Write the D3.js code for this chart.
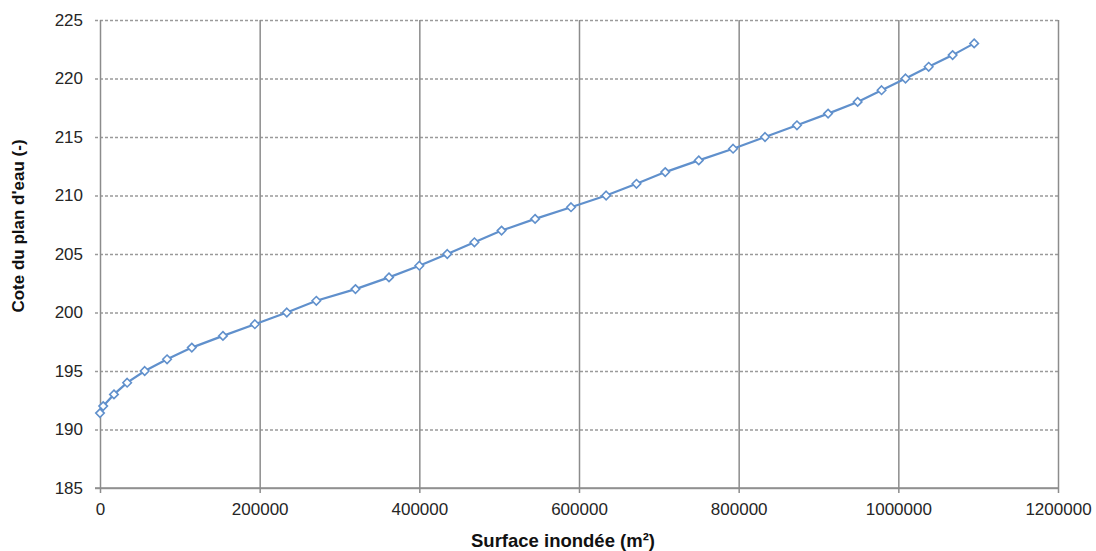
<!DOCTYPE html>
<html>
<head>
<meta charset="utf-8">
<script src="https://cdn.jsdelivr.net/npm/d3@7"></script>
<style>
  body { margin: 0; background: #fff; }
  svg { font-family: "Liberation Sans", Arial, sans-serif; }
  .tick text { fill: #262626; font-size: 17px; }
  .axis-label { font-weight: bold; font-size: 16.5px; fill: #111; }
</style>
</head>
<body>
<svg width="1096" height="551"></svg>
<script>
"use strict";

// surface inondée (m²) -> cote du plan d'eau
const surface = [
  0, 4000, 17500, 34000, 56000, 84000, 115000, 154000, 194000, 234000,
  271000, 320000, 362000, 400000, 435000, 469000, 503000, 545000, 590000,
  634000, 672000, 708000, 750000, 793000, 833000, 873000, 912000, 949000,
  979000, 1009000, 1038000, 1068000, 1095000
];
const cote = [
  191.4, 192, 193, 194, 195, 196, 197, 198, 199, 200,
  201, 202, 203, 204, 205, 206, 207, 208, 209,
  210, 211, 212, 213, 214, 215, 216, 217, 218,
  219, 220, 221, 222, 223
];
const xTicks = [0, 200000, 400000, 600000, 800000, 1000000, 1200000];
const yTicks = [185, 190, 195, 200, 205, 210, 215, 220, 225];

const xAxisLabel = "Surface inondée (m²)";
const yAxisLabel = "Cote du plan d'eau (-)";

const svg = d3.select("svg");
const width = +svg.attr("width");
const height = +svg.attr("height");

const render = data => {
  const margin = { top: 20, right: 38, bottom: 63, left: 100 };
  const innerWidth = width - margin.left - margin.right;
  const innerHeight = height - margin.top - margin.bottom;
  const lineColor = "#6090cc";

  const xScale = d3.scaleLinear().domain([0, 1200000]).range([0, innerWidth]);
  const yScale = d3.scaleLinear().domain([185, 225]).range([innerHeight, 0]);

  const g = svg
    .append("g")
    .attr("transform", `translate(${margin.left},${margin.top})`);

  // horizontal dashed grid + left ticks
  const yAxisG = g
    .append("g")
    .call(
      d3.axisLeft(yScale)
        .tickValues(yTicks)
        .tickSize(-innerWidth - 5)
        .tickPadding(12)
        .tickFormat(d3.format("d"))
    )
    .attr("transform", "translate(-5,0)");
  yAxisG.select(".domain").remove();
  yAxisG.selectAll(".tick text").attr("x", -12);
  yAxisG
    .selectAll(".tick line")
    .attr("x1", 0)
    .attr("x2", innerWidth + 5)
    .attr("stroke", "#9a9a9a")
    .attr("stroke-width", 1.5)
    .attr("stroke-dasharray", d => (d === 185 ? null : "3,2"));

  // vertical solid grid + bottom ticks
  const xAxisG = g
    .append("g")
    .call(
      d3.axisBottom(xScale)
        .tickValues(xTicks)
        .tickSize(5)
        .tickPadding(10)
        .tickFormat(d3.format("d"))
    )
    .attr("transform", `translate(0,${innerHeight})`);
  xAxisG.select(".domain").remove();
  xAxisG
    .selectAll(".tick line")
    .attr("y1", -innerHeight)
    .attr("y2", 5)
    .attr("stroke", "#8c8c8c")
    .attr("stroke-width", 1.5);

  // bottom axis line
  g.append("line")
    .attr("x1", -5)
    .attr("x2", innerWidth)
    .attr("y1", innerHeight)
    .attr("y2", innerHeight)
    .attr("stroke", "#8c8c8c")
    .attr("stroke-width", 1.5);

  const line = d3
    .line()
    .x(d => xScale(d.surface))
    .y(d => yScale(d.cote));

  g.append("path")
    .datum(data)
    .attr("d", line)
    .attr("fill", "none")
    .attr("stroke", lineColor)
    .attr("stroke-width", 2.2);

  const diamond = d3.symbol().type(d3.symbolDiamond2).size(46);
  g.selectAll(".marker")
    .data(data)
    .enter()
    .append("path")
    .attr("class", "marker")
    .attr("d", diamond)
    .attr("transform", d => `translate(${xScale(d.surface)},${yScale(d.cote)})`)
    .attr("fill", "#fff")
    .attr("stroke", lineColor)
    .attr("stroke-width", 1.6);

  svg
    .append("text")
    .attr("class", "axis-label")
    .attr("x", 563)
    .attr("y", 547)
    .attr("text-anchor", "middle")
    .style("font-size", "18.5px")
    .text(xAxisLabel);

  svg
    .append("text")
    .attr("class", "axis-label")
    .attr("transform", `translate(24,226) rotate(-90)`)
    .attr("text-anchor", "middle")
    .style("font-size", "17px")
    .text(yAxisLabel);
};

const data = surface.map((s, i) => ({ surface: s, cote: cote[i] }));
render(data);
</script>
</body>
</html>
